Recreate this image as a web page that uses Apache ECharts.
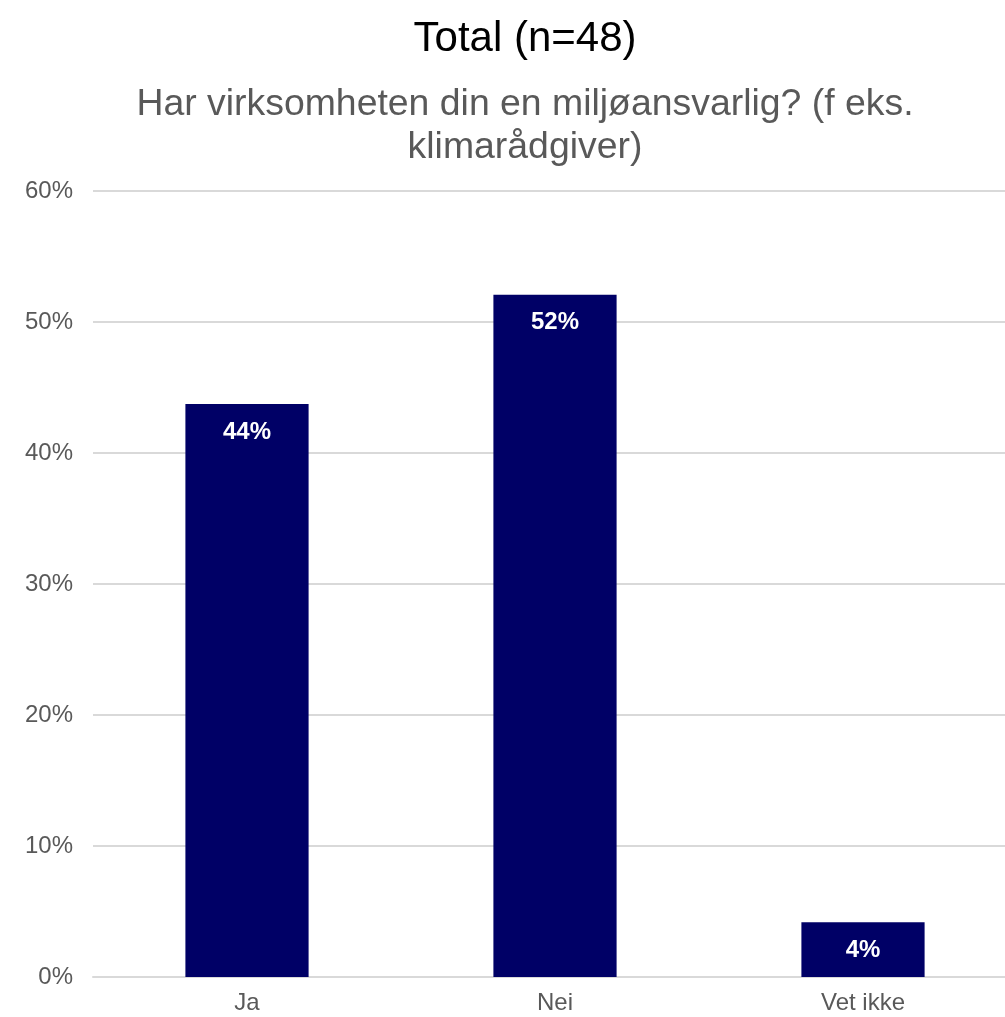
<!DOCTYPE html>
<html>
<head>
<meta charset="utf-8">
<script src="https://cdn.jsdelivr.net/npm/echarts@6/dist/echarts.min.js"></script>
<style>
  html, body { margin: 0; padding: 0; background: #fff; overflow: hidden; }
  /* the plot area runs a little past the right edge of the window */
  #chart { width: 1017px; height: 1017px; }
</style>
</head>
<body>
<div id="chart"></div>
<script>
// data (n=48)
const categories = ['Ja', 'Nei', 'Vet ikke']
const shares = [43.75, 52.08, 4.17]
const yTicks = { min: 0, max: 60, interval: 10 }

const chart = echarts.init(document.getElementById('chart'))

chart.setOption({
  animation: false,
  textStyle: { fontFamily: 'Liberation Sans, Arial, sans-serif' },
  title: [
    {
      text: 'Total (n=48)',
      left: 525,
      top: 13,
      textAlign: 'center',
      textStyle: { fontSize: 42, fontWeight: 'normal', color: '#000' }
    },
    {
      text: 'Har virksomheten din en miljøansvarlig? (f eks.\nklimarådgiver)',
      left: 525,
      top: 78,
      textAlign: 'center',
      textStyle: { fontSize: 37.4, fontWeight: 'normal', color: '#595959', lineHeight: 43 }
    }
  ].map(t => ({ ...t, left: t.left - 5 })),
  grid: { left: 93, top: 191, right: 0, bottom: 40, containLabel: false },
  xAxis: {
    type: 'category',
    data: categories,
    axisLine: { lineStyle: { color: '#d9d9d9', width: 2 } },
    axisTick: { show: false },
    axisLabel: { color: '#595959', fontSize: 24, margin: 14 }
  },
  yAxis: {
    type: 'value',
    min: yTicks.min,
    max: yTicks.max,
    interval: yTicks.interval,
    axisLine: { show: false },
    axisTick: { show: false },
    axisLabel: { color: '#595959', fontSize: 24, margin: 20, formatter: '{value}%' },
    splitLine: { lineStyle: { color: '#d9d9d9', width: 2 } }
  },
  series: [{
    type: 'bar',
    data: shares,
    barWidth: '40%',
    itemStyle: { color: '#000066' },
    label: {
      show: true,
      position: 'insideTop',
      distance: 16,
      color: '#fff',
      fontSize: 24,
      fontWeight: 'bold',
      formatter: p => Math.round(p.value) + '%'
    }
  }]
})
</script>
</body>
</html>
